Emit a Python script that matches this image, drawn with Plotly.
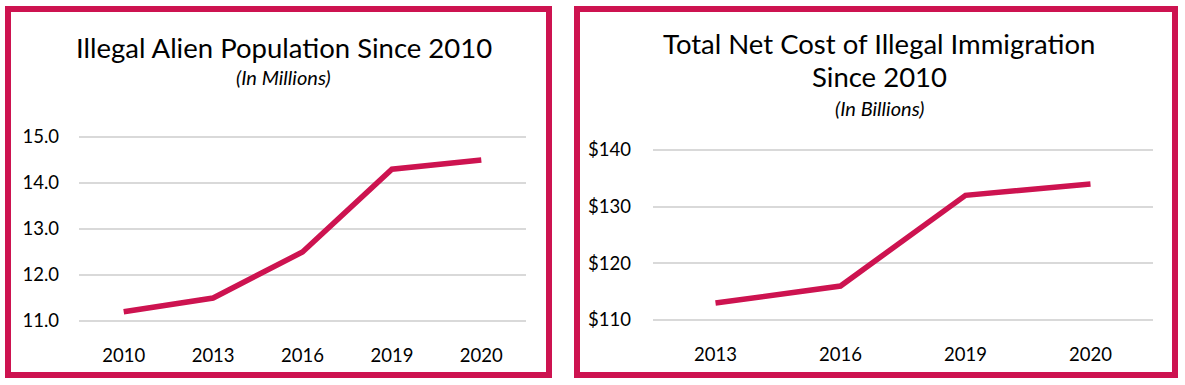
import plotly.graph_objects as go

W, H = 1185, 385
CRIMSON = "#CD1350"
FONT = "Lato"

# Data
pop_years = ["2010", "2013", "2016", "2019", "2020"]
pop_values = [11.2, 11.5, 12.5, 14.3, 14.5]
pop_ticks = [11, 12, 13, 14, 15]
pop_ticklabels = ["11.0", "12.0", "13.0", "14.0", "15.0"]

cost_years = ["2013", "2016", "2019", "2020"]
cost_values = [113, 116, 132, 134]
cost_ticks = [110, 120, 130, 140]
cost_ticklabels = ["$110", "$120", "$130", "$140"]


def px(x):
    return x / W


def py(y):
    return 1 - y / H


fig = go.Figure()
fig.add_trace(go.Scatter(x=pop_years, y=pop_values, mode="lines",
                         line=dict(color=CRIMSON, width=5.5), xaxis="x", yaxis="y",
                         showlegend=False, hoverinfo="skip"))
fig.add_trace(go.Scatter(x=cost_years, y=cost_values, mode="lines",
                         line=dict(color=CRIMSON, width=5.5), xaxis="x2", yaxis="y2",
                         showlegend=False, hoverinfo="skip"))

tickfont = dict(family=FONT, size=18.5, color="#000000")
xcommon = dict(type="category", showgrid=False, zeroline=False, showline=False, ticks="",
               tickfont=tickfont, automargin=False, fixedrange=True, ticklabelstandoff=20)
ycommon = dict(showgrid=True, gridcolor="#D9D9D9", gridwidth=1.5, zeroline=False,
               showline=False, ticks="", tickfont=tickfont, fixedrange=True, automargin=False)

# left chart: 11 at y=321, 15 at y=137  (46 px/unit)
y_lo, y_hi = 10.97, 15.03
fig.update_layout(
    xaxis=dict(domain=[px(79), px(526)], range=[-0.5, len(pop_years) - 0.5], anchor="y", **xcommon),
    yaxis=dict(domain=[py(321 + (11 - y_lo) * 46), py(137 - (y_hi - 15) * 46)],
               range=[y_lo, y_hi], tickvals=pop_ticks, ticktext=pop_ticklabels,
               anchor="x", ticklabelstandoff=19, **ycommon),
)
# right chart: 110 at y=320, 140 at y=150 (170/30 px/unit)
k = 170 / 30
c_lo, c_hi = 109.8, 140.2
fig.update_layout(
    xaxis2=dict(domain=[px(653), px(1153)], range=[-0.5, len(cost_years) - 0.5], anchor="y2", **xcommon),
    yaxis2=dict(domain=[py(320 + (110 - c_lo) * k), py(150 - (c_hi - 140) * k)],
                range=[c_lo, c_hi], tickvals=cost_ticks, ticktext=cost_ticklabels,
                anchor="x2", ticklabelstandoff=21, **ycommon),
)

shapes = [
    dict(type="rect", xref="paper", yref="paper", x0=px(8), x1=px(549), y0=py(375), y1=py(9),
         line=dict(color=CRIMSON, width=6), fillcolor="rgba(0,0,0,0)", layer="above"),
    dict(type="rect", xref="paper", yref="paper", x0=px(577), x1=px(1175), y0=py(375), y1=py(9),
         line=dict(color=CRIMSON, width=6), fillcolor="rgba(0,0,0,0)", layer="above"),
]

annotations = [
    dict(text="Illegal Alien Population Since 2010", x=px(284), y=py(47), xref="paper", yref="paper",
         showarrow=False, font=dict(family=FONT, size=27.5, color="#000000"), xanchor="center", yanchor="middle"),
    dict(text="<i>(In Millions)</i>", x=px(283), y=py(77), xref="paper", yref="paper",
         showarrow=False, font=dict(family=FONT, size=20, color="#000000"), xanchor="center", yanchor="middle"),
    dict(text="Total Net Cost of Illegal Immigration", x=px(879), y=py(43), xref="paper", yref="paper",
         showarrow=False, font=dict(family=FONT, size=27.5, color="#000000"), xanchor="center", yanchor="middle"),
    dict(text="Since 2010", x=px(879), y=py(77), xref="paper", yref="paper",
         showarrow=False, font=dict(family=FONT, size=27.5, color="#000000"), xanchor="center", yanchor="middle"),
    dict(text="<i>(In Billions)</i>", x=px(879), y=py(108), xref="paper", yref="paper",
         showarrow=False, font=dict(family=FONT, size=20, color="#000000"), xanchor="center", yanchor="middle"),
]

fig.update_layout(
    width=W, height=H, margin=dict(l=0, r=0, t=0, b=0, autoexpand=False),
    paper_bgcolor="white", plot_bgcolor="white",
    shapes=shapes, annotations=annotations, showlegend=False,
)

fig.write_html("out.html", config={"displayModeBar": False},
               post_script="document.body.style.margin='0';document.body.style.overflow='hidden';")
